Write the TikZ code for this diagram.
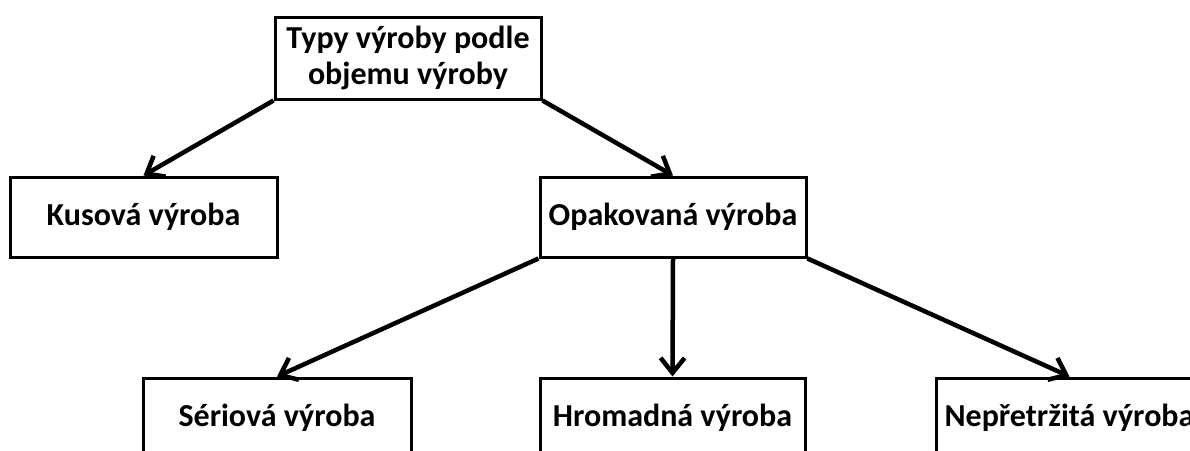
\documentclass[tikz,border=0pt]{standalone}
\usepackage{fontspec}
\setmainfont{Carlito}
\usetikzlibrary{arrows.meta}
\tikzset{
  box/.style={draw=black, line width=3pt, fill=white, minimum width=266pt,
    minimum height=80pt, inner sep=0pt, align=center,
    font=\fontsize{32}{36}\selectfont\bfseries},
  link/.style={line width=4.5pt, -{Straight Barb[length=15pt,width=24pt]}}
}
\begin{document}
\begin{tikzpicture}[x=1pt,y=-1pt]
  \useasboundingbox (0,0) rectangle (1190,450);
  \clip (0,0) rectangle (1190,450);
  % hierarchy boxes
  \node[box, minimum height=82pt] (root) at (408,58) {Typy výroby podle\\objemu výroby};
  \node[box, minimum width=267pt] (kus) at (143.5,217) {Kusová výroba};
  \node[box] (opak) at (673,217) {Opakovaná výroba};
  \node[box, minimum width=268pt] (ser) at (277,418) {Sériová výroba};
  \node[box, minimum width=265pt] (hrom) at (672.5,418) {Hromadná výroba};
  \node[box, minimum width=267pt] (nep) at (1069.5,418) {Nepřetržitá výroba};
  % connectors
  \draw[link] (root.south west) -- (kus.north);
  \draw[link] (root.south east) -- (opak.north);
  \draw[link] (opak.south west) -- (ser.north);
  \draw[link] (opak.south) -- (hrom.north);
  \draw[link] (opak.south east) -- (nep.north);
\end{tikzpicture}
\end{document}
